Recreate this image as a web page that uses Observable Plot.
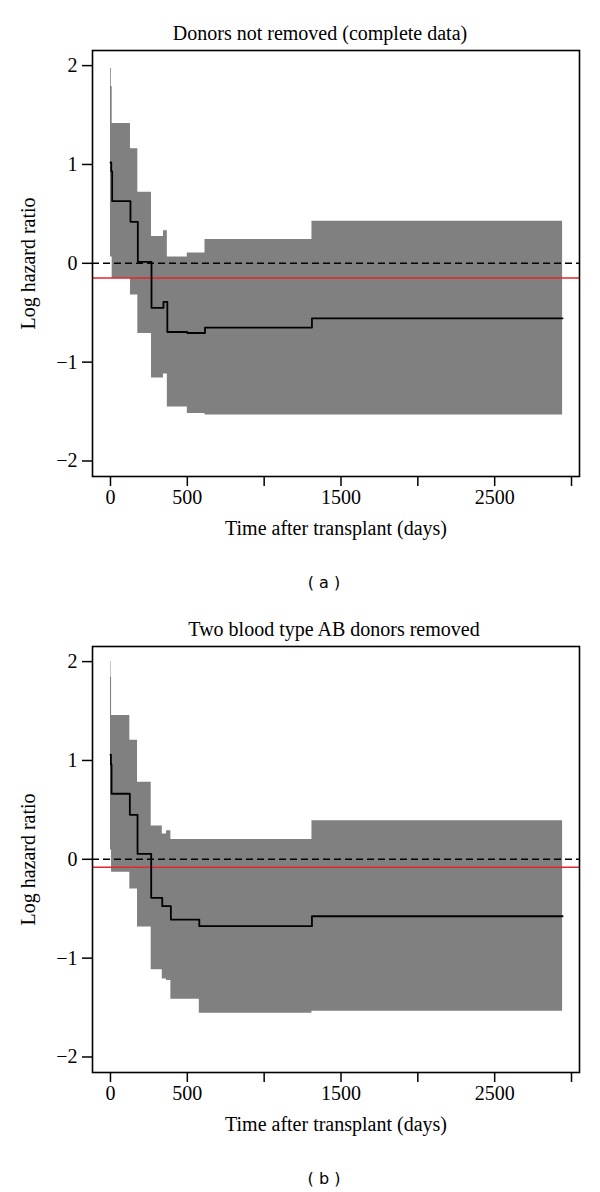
<!DOCTYPE html>
<html><head><meta charset="utf-8">
<script src="https://cdn.jsdelivr.net/npm/d3@7"></script>
<script src="https://cdn.jsdelivr.net/npm/@observablehq/plot@0.6"></script>
<style>body{margin:0;background:#fff;} #chart svg{display:block;}</style>
</head><body><div id="chart"></div>
<script>
// Panel (a): donors not removed
const titleA = "Donors not removed (complete data)";
const tagA = "( a )";
const timeA = [0, 5, 11, 130, 178, 267, 345, 370, 500, 615, 1311, 2942];
const estA  = [1.02, 0.93, 0.63, 0.42, 0.015, -0.45, -0.39, -0.695, -0.705, -0.65, -0.557, -0.557];
const lowA  = [0.065, 0.065, -0.155, -0.32, -0.71, -1.16, -1.12, -1.455, -1.52, -1.535, -1.535, -1.535];
const highA = [1.97, 1.79, 1.415, 1.16, 0.72, 0.27, 0.33, 0.065, 0.105, 0.24, 0.425, 0.425];
const refA = -0.149;

// Panel (b): two blood type AB donors removed
const titleB = "Two blood type AB donors removed";
const tagB = "( b )";
const timeB = [0, 3, 7, 126, 176, 265, 337, 365, 393, 578, 1311, 2942];
const estB  = [1.06, 0.957, 0.663, 0.45, 0.054, -0.39, -0.474, -0.474, -0.61, -0.677, -0.576, -0.576];
const lowB  = [0.095, 0.095, -0.132, -0.30, -0.684, -1.117, -1.21, -1.225, -1.415, -1.557, -1.537, -1.537];
const highB = [2.0, 1.84, 1.455, 1.205, 0.78, 0.338, 0.257, 0.29, 0.2, 0.2, 0.389, 0.389];
const refB = -0.081;

const xTicks = [0, 500, 1000, 1500, 2000, 2500, 3000];
const xTickLabels = [0, 500, 1500, 2500];
const yTicks = [-2, -1, 0, 1, 2];
const xLabel = "Time after transplant (days)";
const yLabel = "Log hazard ratio";

const serif = "'Liberation Serif', 'Times New Roman', serif";

function panel(title, tag, t, est, lo, hi, ref, titleDx) {
  const data = t.map((d, i) => ({t: d, est: est[i], lo: lo[i], hi: hi[i]}));
  return Plot.plot({
    width: 600, height: 596,
    marginLeft: 92, marginRight: 21, marginTop: 50, marginBottom: 120,
    style: {fontFamily: serif, fontSize: "20px", color: "black", background: "white"},
    x: {domain: [-117, 3052]},
    y: {domain: [-2.157, 2.153]},
    marks: [
      Plot.areaY(data, {x: "t", y1: "lo", y2: "hi", curve: "step-after", fill: "#808080"}),
      Plot.ruleY([0], {stroke: "black", strokeWidth: 1.5, strokeDasharray: "7,4"}),
      Plot.ruleY([ref], {stroke: "#e3262b", strokeWidth: 1.5}),
      Plot.line(data, {x: "t", y: "est", curve: "step-after", stroke: "black", strokeWidth: 1.8}),
      Plot.frame({stroke: "black", strokeWidth: 1.6}),
      Plot.axisX({ticks: xTicks, tickFormat: d => xTickLabels.includes(d) ? String(d) : "",
        tickSize: 10, tickPadding: 3, strokeWidth: 1.5, fontSize: 20, fontFamily: serif,
        label: xLabel, labelAnchor: "center", labelArrow: "none", labelOffset: 58}),
      Plot.axisY({ticks: yTicks, tickFormat: d => d < 0 ? "\u2212" + (-d) : String(d),
        tickSize: 10, tickPadding: 5, strokeWidth: 1.5, fontSize: 20, fontFamily: serif,
        label: yLabel, labelAnchor: "center", labelArrow: "none", labelOffset: 72}),
      Plot.text([title], {text: d => d, frameAnchor: "top", dy: -17, dx: titleDx, lineAnchor: "middle",
        fontSize: 20, fontFamily: serif}),
      Plot.text([tag], {text: d => d, frameAnchor: "bottom", dy: 106, dx: -12, lineAnchor: "middle",
        fontFamily: "'DejaVu Sans', sans-serif", fontSize: 16})
    ]
  });
}

const root = document.getElementById("chart");
root.appendChild(panel(titleA, tagA, timeA, estA, lowA, highA, refA, -16));
root.appendChild(panel(titleB, tagB, timeB, estB, lowB, highB, refB, -2));
</script>
</body></html>
